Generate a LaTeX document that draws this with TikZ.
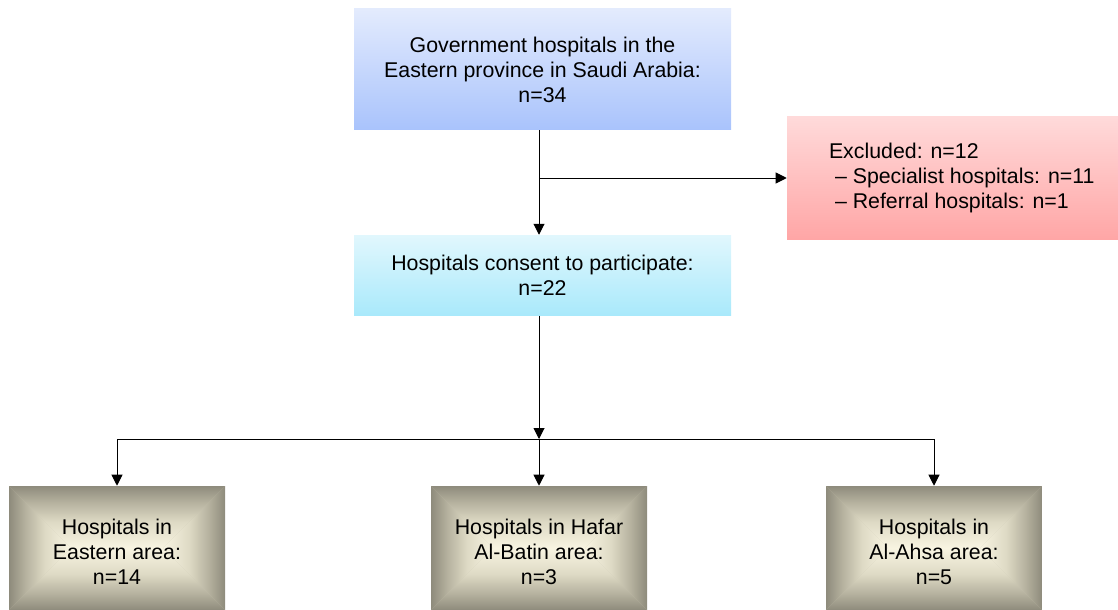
\documentclass[tikz,border=0pt]{standalone}
\usepackage{fontspec}
\setmainfont{Liberation Sans}
\usetikzlibrary{arrows.meta,calc}
\definecolor{govtop}{HTML}{E3EBFD}
\definecolor{govbot}{HTML}{A9C3FC}
\definecolor{contop}{HTML}{E1F7FD}
\definecolor{conbot}{HTML}{A9E9FB}
\definecolor{exctop}{HTML}{FFDADA}
\definecolor{excbot}{HTML}{FFA6A6}
\definecolor{areaedge}{HTML}{8E8B7C}
\definecolor{areaqa}{HTML}{B5B19E}
\definecolor{areaqb}{HTML}{DEDAC5}
\definecolor{areacenter}{HTML}{F8F4E1}
\definecolor{areamid}{HTML}{C8C4B0}
\pgfdeclarehorizontalshading{arealeft}{100bp}{color(0bp)=(areaedge); color(25bp)=(areaedge);
  color(38bp)=(areaqa); color(54bp)=(areaqb); color(75bp)=(areacenter); color(100bp)=(areacenter)}
\pgfdeclarehorizontalshading{arearight}{100bp}{color(0bp)=(areacenter); color(25bp)=(areacenter);
  color(46bp)=(areaqb); color(62bp)=(areaqa); color(75bp)=(areaedge); color(100bp)=(areaedge)}
\pgfdeclareverticalshading{areabottom}{100bp}{color(0bp)=(areaedge); color(25bp)=(areaedge);
  color(38bp)=(areaqa); color(54bp)=(areaqb); color(75bp)=(areacenter); color(100bp)=(areacenter)}
\pgfdeclareverticalshading{areatop}{100bp}{color(0bp)=(areacenter); color(25bp)=(areacenter);
  color(46bp)=(areaqb); color(62bp)=(areaqa); color(75bp)=(areaedge); color(100bp)=(areaedge)}
\tikzset{
  box/.style={rectangle, inner sep=0pt, align=center, text=black,
    font=\fontsize{16}{18.75}\selectfont},
  govbox/.style={box, minimum width=282.75pt, minimum height=90.75pt,
    top color=govtop, bottom color=govbot},
  conbox/.style={box, minimum width=282.75pt, minimum height=60.4pt,
    top color=contop, bottom color=conbot},
  excbox/.style={box, minimum width=248.25pt, minimum height=91.5pt,
    top color=exctop, bottom color=excbot},
  plaintext/.style={inner sep=0pt, text=black,
    font=\fontsize{16}{18.75}\selectfont},
  areabox/.style={box, minimum width=162pt, minimum height=93pt, fill=areamid,
    path picture={
      \coordinate (pl) at ([xshift=46.5pt]path picture bounding box.west);
      \coordinate (pr) at ([xshift=-46.5pt]path picture bounding box.east);
      \shade[shading=arealeft]
        (path picture bounding box.north west) -- (path picture bounding box.south west)
        -- (pl) -- cycle;
      \shade[shading=arearight]
        (path picture bounding box.north east) -- (path picture bounding box.south east)
        -- (pr) -- cycle;
      \shade[shading=areatop]
        (path picture bounding box.north west) -- (path picture bounding box.north east)
        -- (pr) -- (pl) -- cycle;
      \shade[shading=areabottom]
        (path picture bounding box.south west) -- (path picture bounding box.south east)
        -- (pr) -- (pl) -- cycle;
    }},
  flowline/.style={line width=0.75pt, draw=black},
  flowarrow/.style={flowline, -{Triangle[length=8.25pt,width=8.25pt]}}
}
\begin{document}
\begin{tikzpicture}[x=0.75pt,y=-0.75pt]
\useasboundingbox (0,0) rectangle (1118,610);

\node[govbox] (gov) at (542.5,69.5)
  {Government hospitals in the\\Eastern province in Saudi Arabia:\\n=34};
\node[conbox] (con) at (542.5,275.3)
  {Hospitals consent to participate:\\n=22};
\node[excbox] (exc) at (952.5,178) {};
\node[plaintext, anchor=west, align=left] (exctxt) at ($(exc.west)+(42,0)$)
  {Excluded: n=12\\\hspace*{4.5pt}– Specialist hospitals: n=11\\\hspace*{4.5pt}– Referral hospitals: n=1};

\node[areabox] (east) at (117,548) {};
\node[areabox] (hafar) at (539,548) {};
\node[areabox] (ahsa) at (934,548) {};
\node[plaintext, align=center] (easttxt) at ($(east.center)+(0,3.6)$) {Hospitals in\\Eastern area:\\n=14};
\node[plaintext, align=center] (hafartxt) at ($(hafar.center)+(0,3.6)$) {Hospitals in Hafar\\Al-Batin area:\\n=3};
\node[plaintext, align=center] (ahsatxt) at ($(ahsa.center)+(0,3.6)$) {Hospitals in\\Al-Ahsa area:\\n=5};

\coordinate (junc) at (539,439);

\draw[flowarrow] (gov.south -| hafar.north) -- (con.north -| hafar.north);
\draw[flowarrow] (hafar.north |- exc.west) -- (exc.west);
\draw[flowarrow] (con.south -| hafar.north) -- (junc);
\draw[flowline] (east.north |- junc) -- (ahsa.north |- junc);
\draw[flowarrow] (east.north |- junc) -- (east.north);
\draw[flowarrow] (junc) -- (hafar.north);
\draw[flowarrow] (ahsa.north |- junc) -- (ahsa.north);
\end{tikzpicture}
\end{document}
